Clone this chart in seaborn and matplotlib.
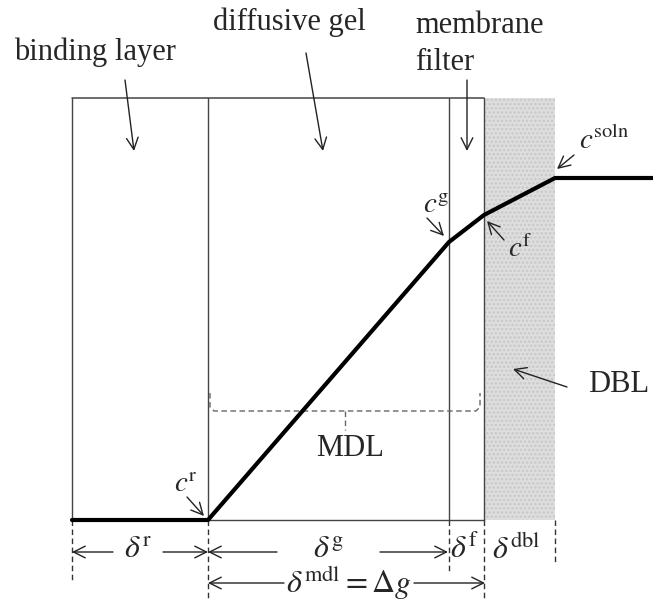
import matplotlib
matplotlib.use("Agg")
import matplotlib.pyplot as plt
import seaborn as sns
from matplotlib.patches import Rectangle

sns.set_theme(style="white")
plt.rcParams['font.family'] = ['Liberation Serif', 'DejaVu Serif']
plt.rcParams['mathtext.fontset'] = 'stix'
plt.rcParams['hatch.linewidth'] = 1.2

# ---- data (diagram units = pixel positions) ----
layer_edges = [72, 208, 449, 484, 555]          # binding | gel | filter | DBL
layer_names = ["binding layer", "diffusive gel", "membrane\nfilter"]
profile_x = [72, 208, 449, 484, 555, 653]
profile_y = [520, 520, 242, 215, 178, 178]
box_top, box_bottom = 98, 520
conc_labels = [r"$c^{\mathrm{r}}$", r"$c^{\mathrm{g}}$", r"$c^{\mathrm{f}}$", r"$c^{\mathrm{soln}}$"]
thick_labels = [r"$\delta^{\mathrm{r}}$", r"$\delta^{\mathrm{g}}$", r"$\delta^{\mathrm{f}}$", r"$\delta^{\mathrm{dbl}}$"]
mdl_label = r"$\delta^{\mathrm{mdl}} = \Delta g$"

fig = plt.figure(figsize=(6.53, 6.01), dpi=100)
ax = fig.add_axes([0, 0, 1, 1])
ax.set_xlim(0, 653)
ax.set_ylim(601, 0)
ax.axis("off")

gray = "#444444"
# DBL region
ax.add_patch(Rectangle((layer_edges[3], box_top), layer_edges[4] - layer_edges[3],
                       box_bottom - box_top, facecolor="#dedede", edgecolor="#c8c8c8",
                       hatch="....", lw=0, zorder=1))
# box
ax.plot([layer_edges[0], layer_edges[3]], [box_top, box_top], color=gray, lw=1.1, zorder=2)
ax.plot([layer_edges[1], layer_edges[3]], [box_bottom, box_bottom], color=gray, lw=1.0, zorder=2)
for xe in layer_edges[:4]:
    ax.plot([xe, xe], [box_top, box_bottom], color=gray, lw=1.0, zorder=2)

# concentration profile
sns.lineplot(x=profile_x, y=profile_y, sort=False, estimator=None, color="black",
             lw=3.0, ax=ax, zorder=5)

arrow = dict(arrowstyle="->,head_length=0.7,head_width=0.35", color="#222222", lw=1.0,
             shrinkA=0, shrinkB=0)

fs = 22
# top labels
ax.text(95, 52, layer_names[0], ha="center", va="center", fontsize=fs)
ax.annotate("", xy=(134, 151), xytext=(125, 80), arrowprops=arrow)
ax.text(289, 22, layer_names[1], ha="center", va="center", fontsize=fs)
ax.annotate("", xy=(323, 151), xytext=(306, 53), arrowprops=arrow)
ax.text(415, 44, layer_names[2], ha="left", va="center", fontsize=fs, linespacing=1.35)
ax.annotate("", xy=(467, 151), xytext=(467, 80), arrowprops=arrow)

# concentration labels
cfs = 21
ax.text(186, 485, conc_labels[0], ha="center", va="center", fontsize=cfs)
ax.annotate("", xy=(204, 516), xytext=(187, 497), arrowprops=arrow)
ax.text(436, 206, conc_labels[1], ha="center", va="center", fontsize=cfs)
ax.annotate("", xy=(444, 236), xytext=(427, 218), arrowprops=arrow)
ax.text(520, 249, conc_labels[2], ha="center", va="center", fontsize=cfs)
ax.annotate("", xy=(487, 221), xytext=(504, 240), arrowprops=arrow)
ax.text(604, 141, conc_labels[3], ha="center", va="center", fontsize=cfs)
ax.annotate("", xy=(557, 169), xytext=(574, 155), arrowprops=arrow)

# DBL
ax.text(588, 385, "DBL", ha="left", va="center", fontsize=fs)
ax.annotate("", xy=(513, 369), xytext=(567, 387), arrowprops=arrow)

# MDL bracket
dash = dict(color="#666666", lw=1.0, ls=(0, (4, 2.5)))
ax.plot([210, 210, 214, 476, 480, 480], [393, 407, 411, 411, 407, 393], **dash)
ax.plot([345, 345], [411, 430], **dash)
ax.text(350, 448, "MDL", ha="center", va="center", fontsize=fs)

# bottom dashed verticals
dash2 = dict(color="#333333", lw=1.0, ls=(0, (4, 2.5)))
ends = [582, 601, 573, 601, 565]
for xe, ye in zip(layer_edges, ends):
    ax.plot([xe, xe], [box_bottom, ye], **dash2)

# thickness labels row 1
ry = 552
tfs = 23
ax.text(138, ry - 2, thick_labels[0], ha="center", va="center", fontsize=tfs)
ax.annotate("", xy=(layer_edges[0], ry), xytext=(113, ry), arrowprops=arrow)
ax.annotate("", xy=(layer_edges[1], ry), xytext=(163, ry), arrowprops=arrow)
ax.text(328, ry - 2, thick_labels[1], ha="center", va="center", fontsize=tfs)
ax.annotate("", xy=(layer_edges[1], ry), xytext=(277, ry), arrowprops=arrow)
ax.annotate("", xy=(layer_edges[2] - 1, ry), xytext=(380, ry), arrowprops=arrow)
ax.text(464, ry - 2, thick_labels[2], ha="center", va="center", fontsize=tfs)
ax.text(516, ry - 2, thick_labels[3], ha="center", va="center", fontsize=tfs)

# row 2
r2 = 583
ax.text(349, r2, mdl_label, ha="center", va="center", fontsize=tfs)
ax.annotate("", xy=(layer_edges[1], r2), xytext=(284, r2), arrowprops=arrow)
ax.annotate("", xy=(layer_edges[3] + 1, r2), xytext=(414, r2), arrowprops=arrow)

fig.savefig("out.png", dpi=100, facecolor="white")
